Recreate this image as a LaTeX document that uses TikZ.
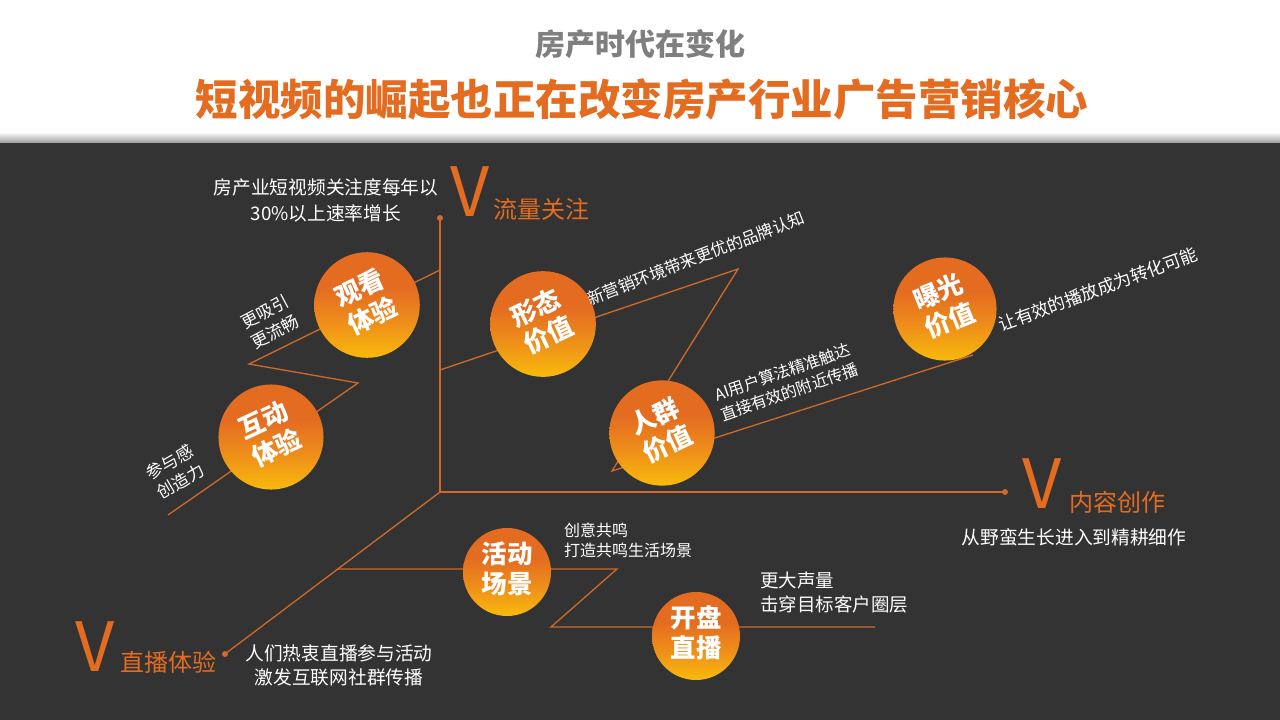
\documentclass[tikz,border=0pt]{standalone}
\usepackage{fontspec}
\usepackage{graphicx}
\usepackage{xcolor}
\setmainfont{Noto Sans CJK SC}
\usetikzlibrary{positioning,calc}

\definecolor{vorange}{HTML}{E46C21}
\definecolor{lineorange}{HTML}{CF6A2B}
\definecolor{ballgold}{HTML}{F9BA0B}
\definecolor{ballmid}{HTML}{EE8E1A}
\definecolor{bgdark}{HTML}{333333}
\definecolor{titlegray}{HTML}{7F7F7F}
\definecolor{shadowgray}{HTML}{9A9A9A}

\pgfdeclareverticalshading{ballshade}{100bp}{color(0bp)=(ballgold); color(25bp)=(ballgold); color(42bp)=(ballmid); color(58bp)=(vorange); color(100bp)=(vorange)}

\newcommand{\balltext}[3]{\rotatebox{#1}{\begin{tabular}{@{}c@{}}#2\\#3\end{tabular}}}

\tikzset{
  axisline/.style={draw=lineorange, line width=1.3pt},
  enddot/.style={circle, fill=lineorange, inner sep=0pt, minimum size=6pt},
  ball/.style={circle, minimum size=88pt, inner sep=0pt, shading=ballshade, text=white,
    font=\fontsize{25.5}{29}\selectfont\bfseries},
  desc/.style={text=white, align=center, inner sep=0pt},
  bigV/.style={text=vorange, inner sep=0pt, anchor=base west, font=\fontsize{68}{68}\selectfont},
  vtitle/.style={text=vorange, inner sep=0pt, anchor=base west, font=\fontsize{24}{24}\selectfont},
}

\begin{document}
\begin{tikzpicture}[x=1pt, y=-1pt]
    % Background
    \fill[white] (0,0) rectangle (1280,143);
    \shade[top color=white, bottom color=shadowgray] (0,132) rectangle (1280,143);
    \fill[bgdark] (0,143) rectangle (1280,720);
    \useasboundingbox (0,0) rectangle (1280,720);

    % Titles
    \node[font=\fontsize{30}{30}\selectfont\bfseries, text=titlegray, inner sep=0pt] (subtitle) at (640,44) {房产时代在变化};
    \node[font=\fontsize{42.5}{42.5}\selectfont\bfseries, text=vorange, inner sep=0pt] (title) at (642,99) {短视频的崛起也正在改变房产行业广告营销核心};

    % Axes
    \coordinate (O) at (440,492);
    \node[enddot] (ytop) at (440,218) {};
    \node[enddot] (xend) at (1005,492) {};
    \node[enddot] (zend) at (225,654) {};
    \draw[axisline] (ytop.center) -- (O) -- (xend.center);
    \draw[axisline] (O) -- (zend.center);

    % Zigzag corners
    \coordinate (a1) at (440,270);
    \coordinate (a2) at (249,364);
    \coordinate (a3) at (358,383);
    \coordinate (a4) at (168,515);
    \coordinate (b1) at (440,370);
    \coordinate (b2) at (738,269);
    \coordinate (b3) at (612,471);
    \coordinate (b4) at (973,355);
    \coordinate (c1) at (338,569);
    \coordinate (c2) at (617,569);
    \coordinate (c3) at (551,627);
    \coordinate (c4) at (875,627);
    \draw[axisline] (a1) -- (a2) -- (a3) -- (a4);
    \draw[axisline] (b1) -- (b2) -- (b3) -- (b4);
    \draw[axisline] (c1) -- (c2) -- (c3) -- (c4);

    % Value balls
    \node[ball] (watch) at (367,305) {\balltext{25}{观看}{体验}};
    \node[ball] (interact) at (271,437) {\balltext{25}{互动}{体验}};
    \node[ball] (form) at (543,324) {\balltext{25}{形态}{价值}};
    \node[ball] (crowd) at (662,433) {\balltext{25}{人群}{价值}};
    \node[ball] (expose) at (945,309) {\balltext{22}{曝光}{价值}};
    \node[ball] (event) at (507,572) {\balltext{0}{活动}{场景}};
    \node[ball] (live) at (696,636) {\balltext{0}{开盘}{直播}};

    % Axis labels
    \node[bigV] (vflow) at (450,216) {V};
    \node[vtitle] (flow) at (493,218) {流量关注};
    \node[bigV] (vcontent) at (1022,508) {V};
    \node[vtitle] (content) at (1069,511) {内容创作};
    \node[bigV] (vlive) at (75,671) {V};
    \node[vtitle] (livetitle) at (120,671) {直播体验};

    % Descriptions
    \node[desc, font=\fontsize{18.7}{26}\selectfont] (growth) at (326,200) {房产业短视频关注度每年以\\30\%以上速率增长};
    \node[desc, rotate=28, font=\fontsize{17}{22}\selectfont] (attract) at (270,322) {更吸引\\更流畅};
    \node[desc, rotate=30, font=\fontsize{17}{22}\selectfont] (engage) at (175,472) {参与感\\创造力};
    \node[desc, rotate=21, font=\fontsize{16.5}{20}\selectfont] (brand) at (696,258) {新营销环境带来更优的品牌认知};
    \node[desc, rotate=19, font=\fontsize{16}{21}\selectfont] (algo) at (786,382) {AI用户算法精准触达\\直接有效的附近传播};
    \node[desc, rotate=20, font=\fontsize{17.5}{20}\selectfont] (convert) at (1098,289) {让有效的播放成为转化可能};
    \node[desc, align=left, anchor=west, font=\fontsize{16}{20}\selectfont] (resonate) at (564,540) {创意共鸣\\打造共鸣生活场景};
    \node[desc, align=left, anchor=west, font=\fontsize{18.5}{24}\selectfont] (volume) at (760,593) {更大声量\\击穿目标客户圈层};
    \node[desc, font=\fontsize{18.7}{24}\selectfont] (refine) at (1074,537) {从野蛮生长进入到精耕细作};
    \node[desc, font=\fontsize{18.7}{24}\selectfont] (social) at (339,665) {人们热衷直播参与活动\\激发互联网社群传播};
\end{tikzpicture}
\end{document}
